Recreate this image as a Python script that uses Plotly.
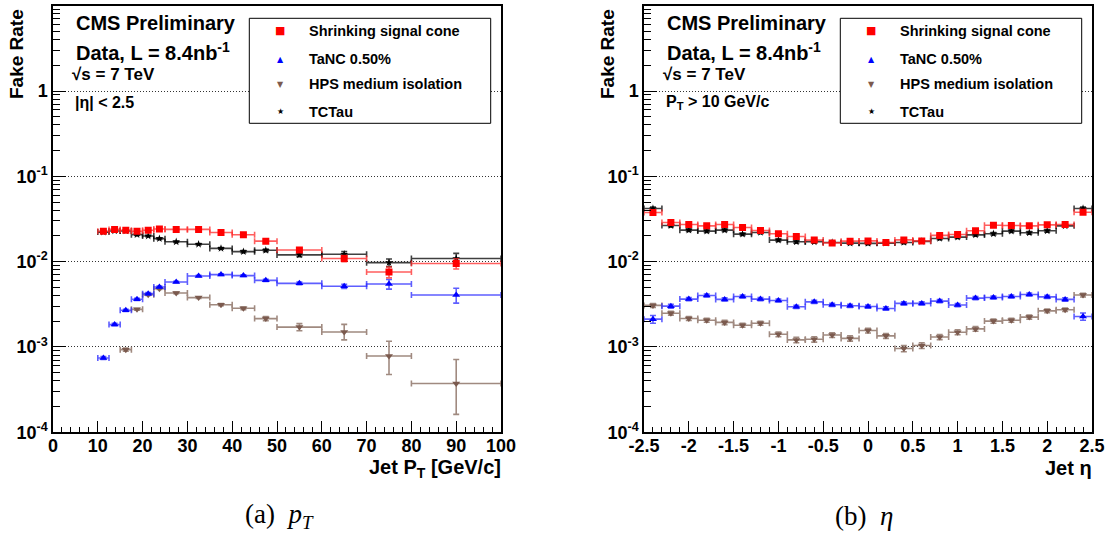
import plotly.graph_objects as go

# ---------------- data ----------------
pt_edges = [10, 12.5, 15, 17.5, 20, 22.5, 25, 30, 35, 40, 45, 50, 60, 70, 80, 100]

pt_shrinking = [0.0227, 0.0239, 0.0233, 0.0227, 0.0233, 0.0241, 0.0239, 0.0239,
                0.0220, 0.0207, 0.0174, 0.0137, 0.0109, 0.00755, 0.0095]
pt_shrinking_err = [0.0005, 0.0005, 0.0005, 0.0005, 0.0005, 0.0005, 0.0004, 0.0004,
                    0.0004, 0.0005, 0.0005, 0.0005, 0.0009, 0.0011, 0.0013]

pt_tanc = [7.43e-4, 1.83e-3, 2.69e-3, 3.62e-3, 4.22e-3, 5.05e-3, 5.77e-3, 6.79e-3,
           7.05e-3, 6.86e-3, 6.04e-3, 5.57e-3, 5.14e-3, 5.47e-3, 4.07e-3]
pt_tanc_err = [3e-5, 6e-5, 8e-5, 1e-4, 1.1e-4, 1.2e-4, 1.2e-4, 1.3e-4,
               1.4e-4, 1.5e-4, 1.6e-4, 2e-4, 3e-4, 7e-4, 8e-4]

pt_hps = [None, None, 9.3e-4, 2.76e-3, 4.10e-3, 4.82e-3, 4.30e-3, 3.79e-3,
          3.13e-3, 2.84e-3, 2.15e-3, 1.71e-3, 1.50e-3, 7.85e-4, 3.73e-4]
pt_hps_err_up = [None, None, 4e-5, 7e-5, 9e-5, 1e-4, 9e-5, 9e-5,
                 9e-5, 1e-4, 1.2e-4, 1.7e-4, 3.4e-4, 3.8e-4, 3.39e-4]
pt_hps_err_dn = [None, None, 4e-5, 7e-5, 9e-5, 1e-4, 9e-5, 9e-5,
                 9e-5, 1e-4, 1.2e-4, 1.6e-4, 2.9e-4, 3.1e-4, 2.11e-4]

pt_tctau = [0.0222, 0.0229, 0.0229, 0.0207, 0.0200, 0.0186, 0.0171, 0.0160,
            0.0143, 0.0131, 0.0136, 0.0120, 0.0122, 0.00973, 0.0109]
pt_tctau_err = [0.0005, 0.0005, 0.0005, 0.0004, 0.0004, 0.0004, 0.0003, 0.0003,
                0.0003, 0.0004, 0.0005, 0.0006, 0.0009, 0.0010, 0.0016]

eta_edges = [-2.5, -2.3, -2.1, -1.9, -1.7, -1.5, -1.3, -1.1, -0.9, -0.7, -0.5, -0.3, -0.1,
             0.1, 0.3, 0.5, 0.7, 0.9, 1.1, 1.3, 1.5, 1.7, 1.9, 2.1, 2.3, 2.5]

eta_shrinking = [0.0377, 0.0288, 0.0273, 0.0263, 0.0273, 0.0251, 0.0232, 0.0212, 0.0197,
                 0.0179, 0.0166, 0.0174, 0.0175, 0.0168, 0.0180, 0.0175, 0.0203, 0.0208,
                 0.0230, 0.0267, 0.0265, 0.0263, 0.0270, 0.0273, 0.0380]
eta_shrinking_err = [0.0016, 0.0009, 0.0008, 0.0008, 0.0008, 0.0007, 0.0007, 0.0006, 0.0006,
                     0.0006, 0.0006, 0.0006, 0.0006, 0.0006, 0.0006, 0.0006, 0.0006, 0.0007,
                     0.0007, 0.0008, 0.0008, 0.0008, 0.0008, 0.0009, 0.0016]

eta_tanc = [2.12e-3, 3.01e-3, 3.64e-3, 4.02e-3, 3.61e-3, 3.91e-3, 3.64e-3, 3.51e-3, 2.96e-3,
            3.38e-3, 3.12e-3, 3.04e-3, 2.98e-3, 2.83e-3, 3.24e-3, 3.24e-3, 3.45e-3, 3.10e-3,
            3.74e-3, 3.80e-3, 3.91e-3, 4.13e-3, 3.87e-3, 3.61e-3, 2.28e-3]
eta_tanc_err = [2.2e-4, 1.6e-4, 1.6e-4, 1.6e-4, 1.5e-4, 1.5e-4, 1.5e-4, 1.4e-4, 1.3e-4,
                1.4e-4, 1.3e-4, 1.3e-4, 1.3e-4, 1.3e-4, 1.4e-4, 1.4e-4, 1.4e-4, 1.3e-4,
                1.5e-4, 1.5e-4, 1.5e-4, 1.6e-4, 1.6e-4, 1.6e-4, 2.2e-4]

eta_hps = [3.07e-3, 2.49e-3, 2.16e-3, 2.06e-3, 1.94e-3, 1.80e-3, 1.90e-3, 1.41e-3, 1.21e-3,
           1.23e-3, 1.38e-3, 1.26e-3, 1.56e-3, 1.35e-3, 9.6e-4, 1.04e-3, 1.31e-3, 1.49e-3,
           1.63e-3, 2.01e-3, 2.06e-3, 2.24e-3, 2.65e-3, 2.73e-3, 4.06e-3]
eta_hps_err = [1.6e-4, 1.3e-4, 1.2e-4, 1.1e-4, 1.1e-4, 1.0e-4, 1.0e-4, 9e-5, 9e-5,
               9e-5, 9e-5, 9e-5, 1.0e-4, 9e-5, 8e-5, 8e-5, 9e-5, 1.0e-4,
               1.0e-4, 1.1e-4, 1.1e-4, 1.2e-4, 1.3e-4, 1.3e-4, 2.0e-4]

eta_tctau = [0.0420, 0.0265, 0.0234, 0.0228, 0.0234, 0.0210, 0.0220, 0.0179, 0.0171,
             0.0171, 0.0168, 0.0165, 0.0164, 0.0165, 0.0168, 0.0173, 0.0187, 0.0194,
             0.0206, 0.0212, 0.0228, 0.0218, 0.0230, 0.0263, 0.0420]
eta_tctau_err = [0.0017, 0.0009, 0.0008, 0.0008, 0.0008, 0.0007, 0.0007, 0.0006, 0.0006,
                 0.0006, 0.0006, 0.0006, 0.0006, 0.0006, 0.0006, 0.0006, 0.0006, 0.0007,
                 0.0007, 0.0007, 0.0008, 0.0008, 0.0008, 0.0009, 0.0017]

legend_labels = ["Shrinking signal cone", "TaNC 0.50%", "HPS medium isolation", "TCTau"]

# ---------------- style ----------------
W, H = 1109, 533
FONT = "Liberation Sans, Arial, Helvetica, sans-serif"
RED, RED_BAR = "#ff0000", "rgba(255,40,40,0.75)"
BLUE, BLUE_BAR = "#0000ff", "rgba(40,40,255,0.75)"
BROWN, BROWN_BAR = "#7b5a4e", "#a08a80"
BLACK, BLACK_BAR = "#000000", "rgba(0,0,0,0.75)"


def px(x):
    return x / W


def py(y):
    return 1 - y / H


def centers(edges):
    return [(a + b) / 2 for a, b in zip(edges[:-1], edges[1:])]


def halfwidths(edges):
    return [(b - a) / 2 for a, b in zip(edges[:-1], edges[1:])]


fig = go.Figure()


def add_series(xa, ya, edges, y, err_up, err_dn, color, bar_color, symbol, size):
    fig.add_trace(go.Scatter(
        x=centers(edges), y=y, mode="markers", xaxis=xa, yaxis=ya, showlegend=False,
        marker=dict(symbol=symbol, size=size, color=color, line=dict(width=0)),
        error_x=dict(type="data", array=halfwidths(edges), symmetric=True,
                     color=bar_color, thickness=1.6, width=3),
        error_y=dict(type="data", array=err_up, arrayminus=err_dn, symmetric=False,
                     color=bar_color, thickness=1.6, width=3),
    ))


# pT panel
add_series("x", "y", pt_edges, pt_hps, pt_hps_err_up, pt_hps_err_dn, BROWN, BROWN_BAR, "triangle-down", 7)
add_series("x", "y", pt_edges, pt_tanc, pt_tanc_err, pt_tanc_err, BLUE, BLUE_BAR, "triangle-up", 7)
add_series("x", "y", pt_edges, pt_tctau, pt_tctau_err, pt_tctau_err, BLACK, BLACK_BAR, "star", 6)
add_series("x", "y", pt_edges, pt_shrinking, pt_shrinking_err, pt_shrinking_err, RED, RED_BAR, "square", 7)

# eta panel
add_series("x2", "y2", eta_edges, eta_hps, eta_hps_err, eta_hps_err, BROWN, BROWN_BAR, "triangle-down", 7)
add_series("x2", "y2", eta_edges, eta_tanc, eta_tanc_err, eta_tanc_err, BLUE, BLUE_BAR, "triangle-up", 7)
add_series("x2", "y2", eta_edges, eta_tctau, eta_tctau_err, eta_tctau_err, BLACK, BLACK_BAR, "star", 6)
add_series("x2", "y2", eta_edges, eta_shrinking, eta_shrinking_err, eta_shrinking_err, RED, RED_BAR, "square", 7)

# ---------------- axes ----------------
y_major = [1e-4, 1e-3, 1e-2, 1e-1, 1]
y_text = ["10<sup>-4</sup>", "10<sup>-3</sup>", "10<sup>-2</sup>", "10<sup>-1</sup>", "1"]
y_minor = [m * 10 ** e for e in range(-4, 1) for m in range(2, 10)]

x0l, x1l = 53, 501
x0r, x1r = 644, 1092
ytop, ybot = 5.7, 432.3

common_x = dict(
    automargin=False,
    showline=True, linecolor="black", linewidth=1.5, mirror=True,
    ticks="inside", ticklen=12, tickwidth=1, tickcolor="black",
    ticklabelstandoff=-4,
    showgrid=False, zeroline=False,
    tickfont=dict(family=FONT, size=18, color="black", weight="bold"),
)
common_y = dict(
    automargin=False,
    type="log", range=[-4, 1],
    domain=[py(ybot), py(ytop)],
    showline=True, linecolor="black", linewidth=1.5, mirror=True,
    tickmode="array", tickvals=y_major, ticktext=y_text,
    ticks="inside", ticklen=13, tickwidth=1, tickcolor="black",
    minor=dict(tickmode="array", tickvals=y_minor, ticks="inside", ticklen=7,
               tickwidth=1, tickcolor="black", showgrid=False),
    showgrid=True, gridcolor="#333333", griddash="1px,2px", gridwidth=1,
    zeroline=False,
    tickfont=dict(family=FONT, size=18, color="black", weight="bold"),
)

eta_ticks = [-2.5, -2, -1.5, -1, -0.5, 0, 0.5, 1, 1.5, 2, 2.5]
eta_ticktext = ["-2.5", "-2", "-1.5", "-1", "-0.5", "0", "0.5", "1", "1.5", "2", "2.5"]

fig.update_layout(
    width=W, height=H,
    margin=dict(l=0, r=0, t=0, b=0, autoexpand=False),
    paper_bgcolor="white", plot_bgcolor="white",
    showlegend=False,
    xaxis=dict(domain=[px(x0l), px(x1l)], range=[0, 100], anchor="y",
               tickmode="linear", tick0=0, dtick=10,
               minor=dict(dtick=2, ticks="inside", ticklen=6, tickwidth=1, tickcolor="black"),
               **common_x),
    yaxis=dict(anchor="x", **common_y),
    xaxis2=dict(domain=[px(x0r), px(x1r)], range=[-2.5, 2.5], anchor="y2",
                tickmode="array", tickvals=eta_ticks, ticktext=eta_ticktext,
                minor=dict(tick0=-2.5, dtick=0.1, ticks="inside", ticklen=6, tickwidth=1,
                           tickcolor="black"),
                **common_x),
    yaxis2=dict(anchor="x2", **common_y),
)

# ---------------- text and legend ----------------
ann = []


def text(x, y, s, size, xanchor="left", yanchor="middle", color="black", bold=True,
         family=FONT, angle=0):
    ann.append(dict(
        x=px(x), y=py(y), xref="paper", yref="paper", text=s, showarrow=False,
        xanchor=xanchor, yanchor=yanchor, textangle=angle,
        font=dict(family=family, size=size, color=color, weight="bold" if bold else "normal"),
    ))


shapes = []
for dx, cut in [(0, "|η| &lt; 2.5"), (591, "P<sub>T</sub> &gt; 10 GeV/c")]:
    text(74 + dx, 23, "CMS Preliminary", 20)
    text(74 + dx, 52, "Data, L = 8.4nb<sup>-1</sup>", 20)
    text(70 + dx, 75, "√s = 7 TeV", 17)
    text(73 + dx, 102, cut, 16)
    text(17 + dx, 54, "Fake Rate", 19, xanchor="center", angle=-90)

    # legend box
    shapes.append(dict(type="rect", xref="paper", yref="paper",
                       x0=px(249.3 + dx), x1=px(490.7 + dx), y0=py(123.3), y1=py(18.3),
                       line=dict(color="black", width=1), fillcolor="white", layer="above"))
    keys = [("■", RED, 11), ("▲", BLUE, 8), ("▼", BROWN, 8), ("★", BLACK, 8)]
    rows = [30.7, 59.3, 84.0, 111.7]
    for (glyph, col, gs), label, ry in zip(keys, legend_labels, rows):
        text(280 + dx, ry, glyph, gs, xanchor="center", color=col, bold=False,
             family="DejaVu Sans")
        text(307 + dx, ry, label, 14.5)

text(503, 468, "Jet P<sub>T</sub> [GeV/c]", 20, xanchor="right")
text(1094, 468, "Jet η", 20, xanchor="right")

SERIF = "Liberation Serif, DejaVu Serif, serif"
text(279, 516, "(a)  <i>p<sub>T</sub></i>", 27, xanchor="center", bold=False, family=SERIF)
text(864, 516, "(b)  <i>η</i>", 27, xanchor="center", bold=False, family=SERIF)

fig.update_layout(annotations=ann, shapes=shapes)

fig.write_html("out.html")
